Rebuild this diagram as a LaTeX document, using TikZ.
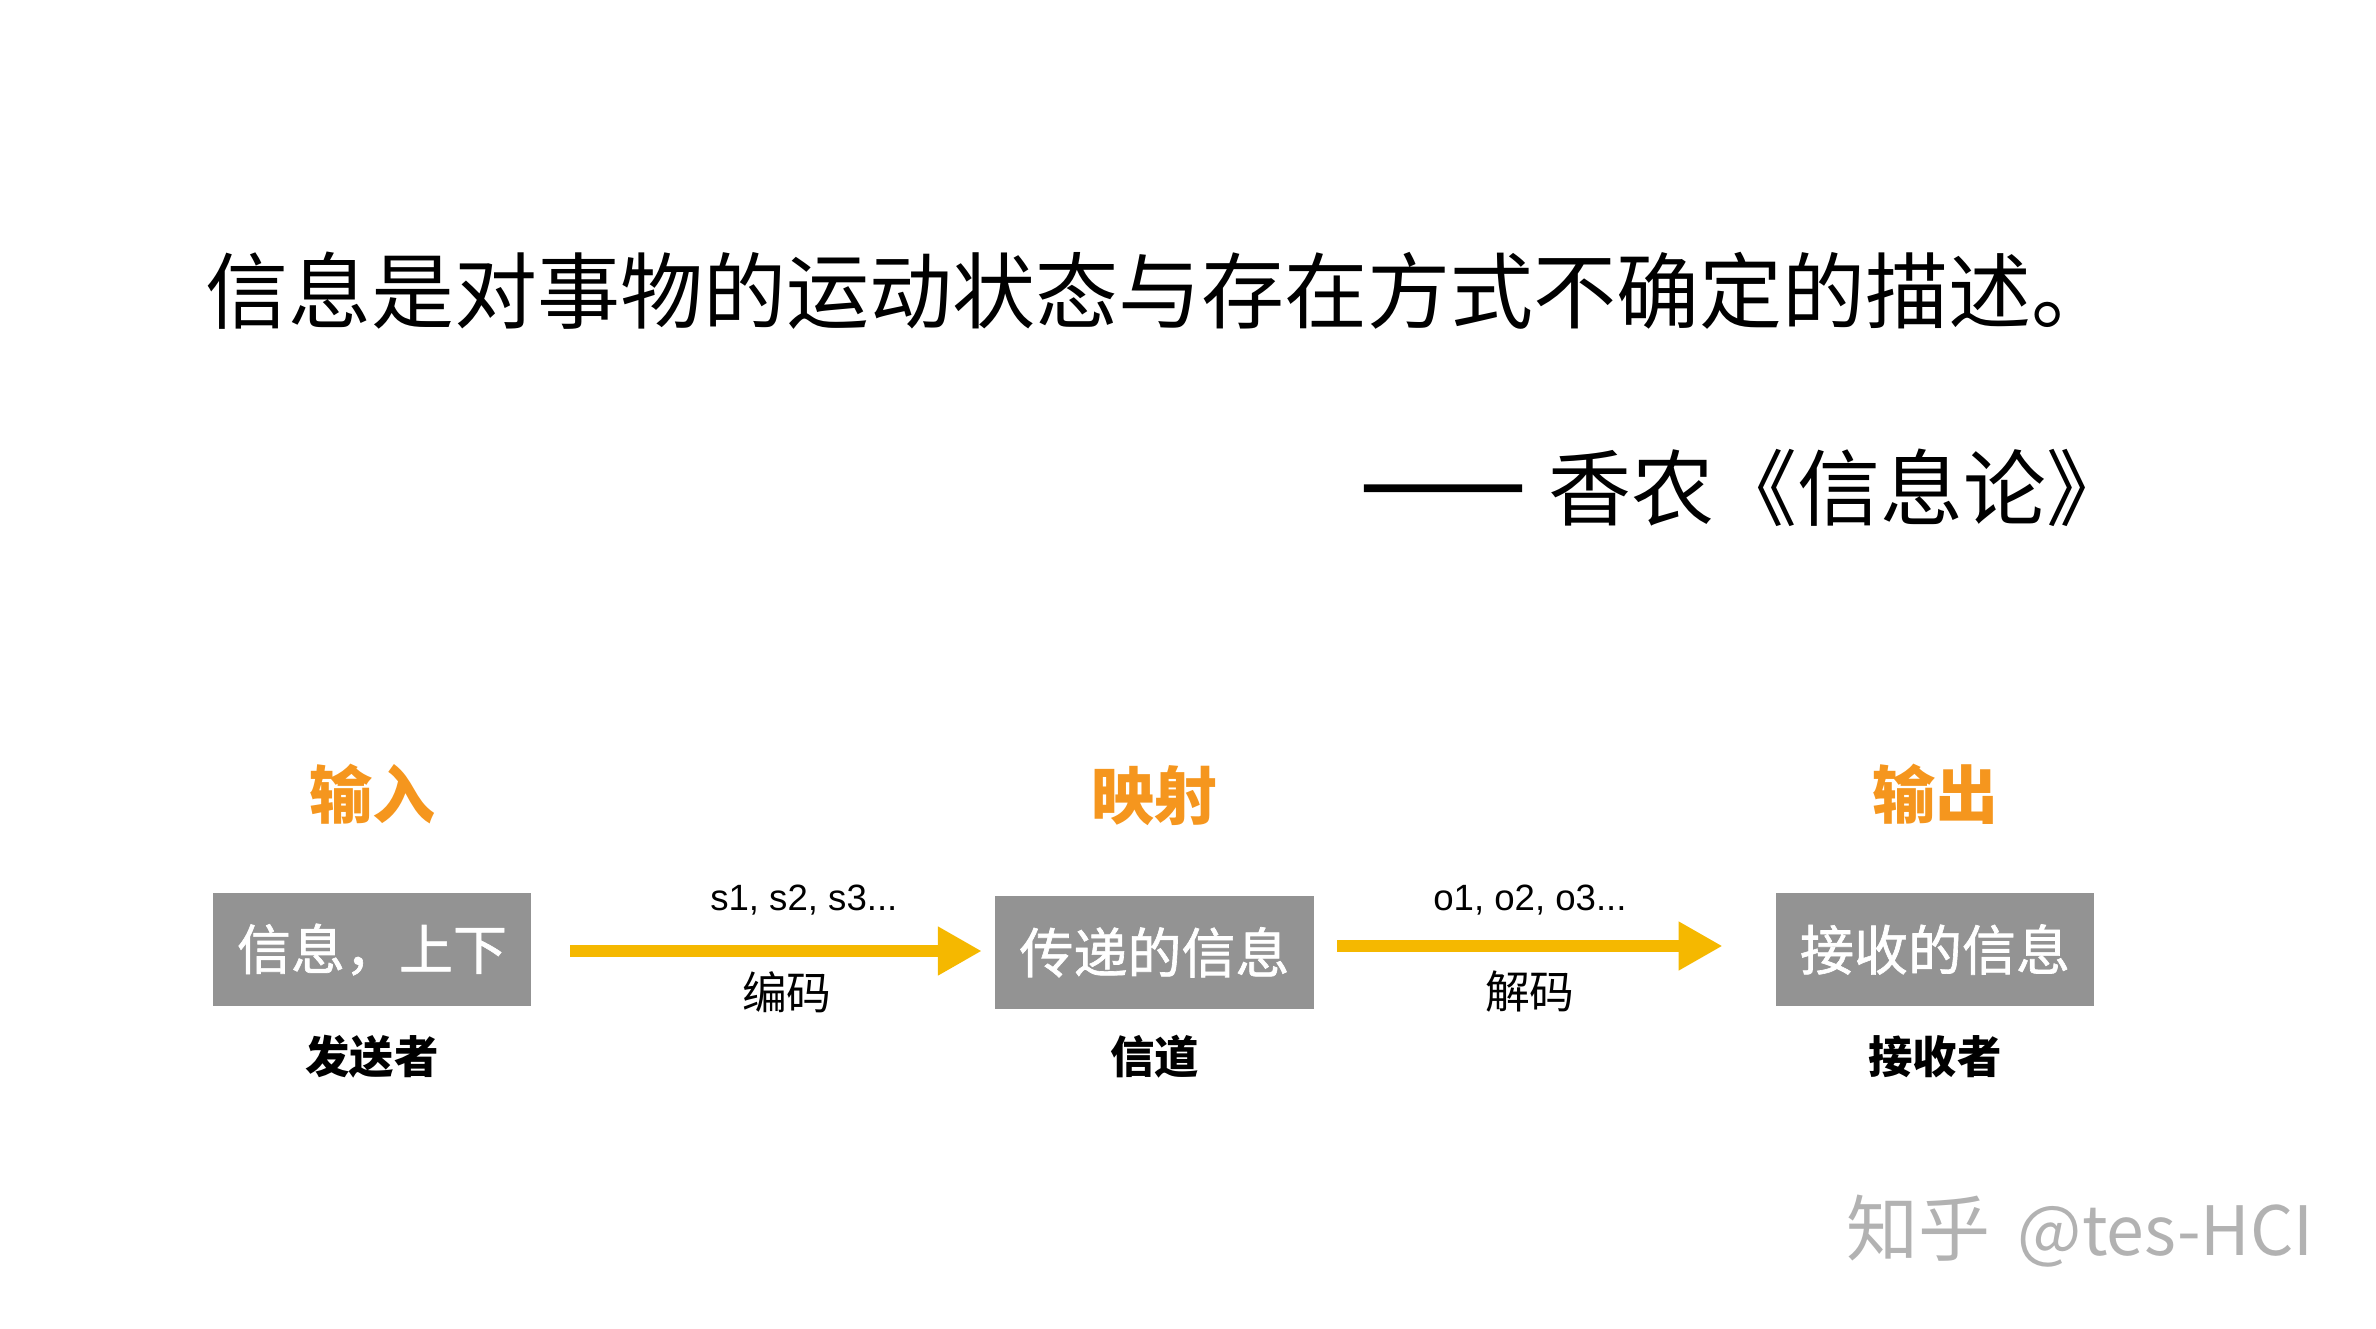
\documentclass[tikz,border=0pt]{standalone}
\usepackage{fontspec}
\setmainfont{Noto Sans CJK SC}
\newfontfamily\boxfont[FakeBold=1.2]{Noto Sans CJK SC}
\newfontfamily\dashfont[FakeBold=5, RawFeature=+fwid]{Noto Sans CJK SC}
\newfontfamily\latinfont{Liberation Sans}
\usetikzlibrary{arrows.meta, calc, positioning}
\definecolor{boxgray}{RGB}{147,147,147}
\definecolor{headorange}{RGB}{245,150,30}
\definecolor{arrowyellow}{RGB}{245,184,0}
\definecolor{markgray}{RGB}{178,178,178}
\tikzstyle{quote} = [font=\fontsize{41.5}{48}\selectfont, inner sep=0pt]
\tikzstyle{heading} = [text=headorange, font=\fontsize{31.5}{36}\selectfont\bfseries]
\tikzstyle{infobox} = [rectangle, fill=boxgray, text=white, minimum width=159.3pt, minimum height=56.2pt, inner sep=0pt, font=\fontsize{27}{32}\boxfont]
\tikzstyle{role} = [font=\fontsize{22.2}{26}\selectfont\bfseries]
\tikzstyle{signal} = [font=\fontsize{18.3}{22}\latinfont]
\tikzstyle{coding} = [font=\fontsize{22.4}{26}\selectfont]
\tikzstyle{arrow} = [line width=6pt, draw=arrowyellow, -{Triangle[length=22pt, width=23pt, fill=arrowyellow]}]
\begin{document}
\begin{tikzpicture}[x=0.5pt, y=-0.5pt]
		\useasboundingbox (0,0) rectangle (2376,1328);
		\node (Quote) [quote, anchor=west] at (205,291) {信息是对事物的运动状态与存在方式不确定的描述。};
		\node (Source) [quote, anchor=east] at (2130,488) {{\dashfont ——}\hspace{2pt} 香农《信息论》};

		\node (Sender) [infobox] at (372,949.5) {信息，上下};
		\node (Channel) [infobox] at (1154.5,952.3) {传递的信息};
		\node (Receiver) [infobox] at (1935,949.5) {接收的信息};

		\node (Input) [heading] at ($(Sender)+(0,-155.5)$) {输入};
		\node (Mapping) [heading] at ($(Channel)+(0,-157)$) {映射};
		\node (Output) [heading] at ($(Receiver)+(0,-155)$) {输出};

		\node (SenderRole) [role] at ($(Sender)+(0,107)$) {发送者};
		\node (ChannelRole) [role] at ($(Channel)+(0,104.5)$) {信道};
		\node (ReceiverRole) [role] at ($(Receiver)+(0,107)$) {接收者};

		\draw [arrow, shorten <=19.3pt, shorten >=6.5pt] (Sender.east |- 0,951) -- (Channel.west |- 0,951)
			node[signal, midway, xshift=20.3pt, yshift=25.5pt]{s1, s2, s3...}
			node[coding, midway, xshift=11.8pt, yshift=-20.5pt]{编码};
		\draw [arrow, shorten <=11.5pt, shorten >=26.4pt] (Channel.east |- 0,946) -- (Receiver.west |- 0,946)
			node[signal, midway, xshift=-7.4pt, yshift=23pt]{o1, o2, o3...}
			node[coding, midway, xshift=-7.4pt, yshift=-23pt]{解码};

		\node (Mark) [text=markgray, font=\fontsize{34}{40}\selectfont] at (2080,1231) {{\fontsize{36}{40}\selectfont 知乎}\hspace{6pt} @tes-HCI};
	\end{tikzpicture}
\end{document}
